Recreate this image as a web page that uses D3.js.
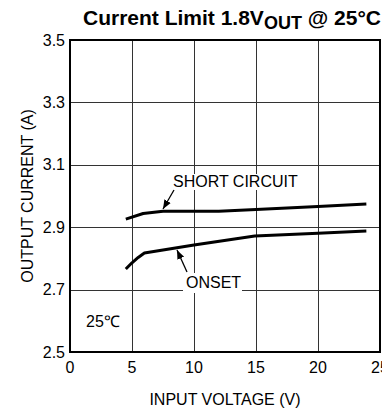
<!DOCTYPE html>
<html>
<head>
<meta charset="utf-8">
<script src="https://cdn.jsdelivr.net/npm/d3@7"></script>
<style>
  html, body { margin: 0; padding: 0; background: #fff; }
  svg { display: block; font-family: "Liberation Sans", Arial, sans-serif; }
</style>
</head>
<body>
<svg id="chart" width="382" height="410"></svg>
<script>
// Input voltage (V) and output current (A) readings for each curve
const shortVin = [4.5, 5.9, 7.5, 12.0, 15.0, 20.0, 23.9];
const shortIout = [2.926, 2.944, 2.951, 2.951, 2.957, 2.966, 2.974];
const onsetVin = [4.5, 5.0, 5.5, 6.0, 10.0, 14.9, 20.0, 23.9];
const onsetIout = [2.766, 2.786, 2.803, 2.817, 2.843, 2.872, 2.881, 2.888];
const xTicks = [0, 5, 10, 15, 20, 25];
const yTicks = [2.5, 2.7, 2.9, 3.1, 3.3, 3.5];
const yTickLabels = ["2.5", "2.7", "2.9", "3.1", "3.3", "3.5"];

const svg = d3.select("#chart");
const x = d3.scaleLinear().domain([0, 25]).range([70, 380]);
const y = d3.scaleLinear().domain([2.5, 3.5]).range([352, 40]);
const FS = 16;

// Grid
const grid = svg.append("g");
grid.selectAll(".vg").data(xTicks.slice(1, -1)).join("line")
  .attr("x1", d => Math.round(x(d)) + 0.5).attr("x2", d => Math.round(x(d)) + 0.5)
  .attr("y1", y(3.5)).attr("y2", y(2.5))
  .attr("stroke", "#333").attr("stroke-width", 1);
grid.selectAll(".hg").data(yTicks.slice(1, -1)).join("line")
  .attr("x1", x(0)).attr("x2", x(25))
  .attr("y1", d => Math.round(y(d)) + 0.5).attr("y2", d => Math.round(y(d)) + 0.5)
  .attr("stroke", "#333").attr("stroke-width", 1);

// Frame
svg.append("rect")
  .attr("x", x(0)).attr("y", y(3.5))
  .attr("width", x(25) - x(0)).attr("height", y(2.5) - y(3.5))
  .attr("fill", "none").attr("stroke", "#000").attr("stroke-width", 2);

// Tick labels
svg.append("g").selectAll("text").data(yTicks).join("text")
  .attr("x", 65).attr("y", d => y(d) + 5.5)
  .attr("text-anchor", "end").attr("font-size", FS).attr("fill", "#000")
  .text((d, i) => yTickLabels[i]);
svg.append("g").selectAll("text").data(xTicks).join("text")
  .attr("x", d => x(d)).attr("y", 372.5)
  .attr("text-anchor", "middle").attr("font-size", FS).attr("fill", "#000")
  .text(d => d);

// Axis titles
svg.append("text").attr("x", 225).attr("y", 405)
  .attr("text-anchor", "middle").attr("font-size", FS).text("INPUT VOLTAGE (V)");
svg.append("text").attr("transform", "translate(33,196) rotate(-90)")
  .attr("text-anchor", "middle").attr("font-size", FS).text("OUTPUT CURRENT (A)");

// Title
const title = svg.append("text").attr("x", 83).attr("y", 25)
  .attr("font-size", 21).attr("font-weight", "bold");
title.append("tspan").text("Current Limit 1.8V");
title.append("tspan").attr("font-size", 18).attr("dy", 4).text("OUT");
title.append("tspan").attr("dy", -4).text(" @ 25°C");

// Curves
const line = d3.line().x(d => x(d[0])).y(d => y(d[1]));
svg.append("path").datum(shortVin.map((v, i) => [v, shortIout[i]]))
  .attr("d", line).attr("fill", "none").attr("stroke", "#000")
  .attr("stroke-width", 3).attr("stroke-linejoin", "round");
svg.append("path").datum(onsetVin.map((v, i) => [v, onsetIout[i]]))
  .attr("d", line).attr("fill", "none").attr("stroke", "#000")
  .attr("stroke-width", 3).attr("stroke-linejoin", "round");

// Annotations
svg.append("defs").append("marker")
  .attr("id", "ah").attr("viewBox", "0 0 10 10").attr("refX", 10).attr("refY", 5)
  .attr("markerWidth", 7).attr("markerHeight", 7).attr("orient", "auto")
  .append("path").attr("d", "M0,1 L10,5 L0,9 Z").attr("fill", "#000");

svg.append("rect").attr("x", 170).attr("y", 174).attr("width", 131).attr("height", 16).attr("fill", "#fff");
svg.append("text").attr("x", 173).attr("y", 187).attr("font-size", FS).text("SHORT CIRCUIT");
svg.append("line").attr("x1", 174).attr("y1", 190).attr("x2", 163).attr("y2", 209)
  .attr("stroke", "#000").attr("stroke-width", 1.3).attr("marker-end", "url(#ah)");

svg.append("rect").attr("x", 183).attr("y", 273).attr("width", 59).attr("height", 20).attr("fill", "#fff");
svg.append("text").attr("x", 186).attr("y", 288).attr("font-size", FS).text("ONSET");
svg.append("line").attr("x1", 187).attr("y1", 272).attr("x2", 177).attr("y2", 250)
  .attr("stroke", "#000").attr("stroke-width", 1.3).attr("marker-end", "url(#ah)");

svg.append("text").attr("x", 86).attr("y", 327).attr("font-size", FS).text("25℃");
</script>
</body>
</html>
